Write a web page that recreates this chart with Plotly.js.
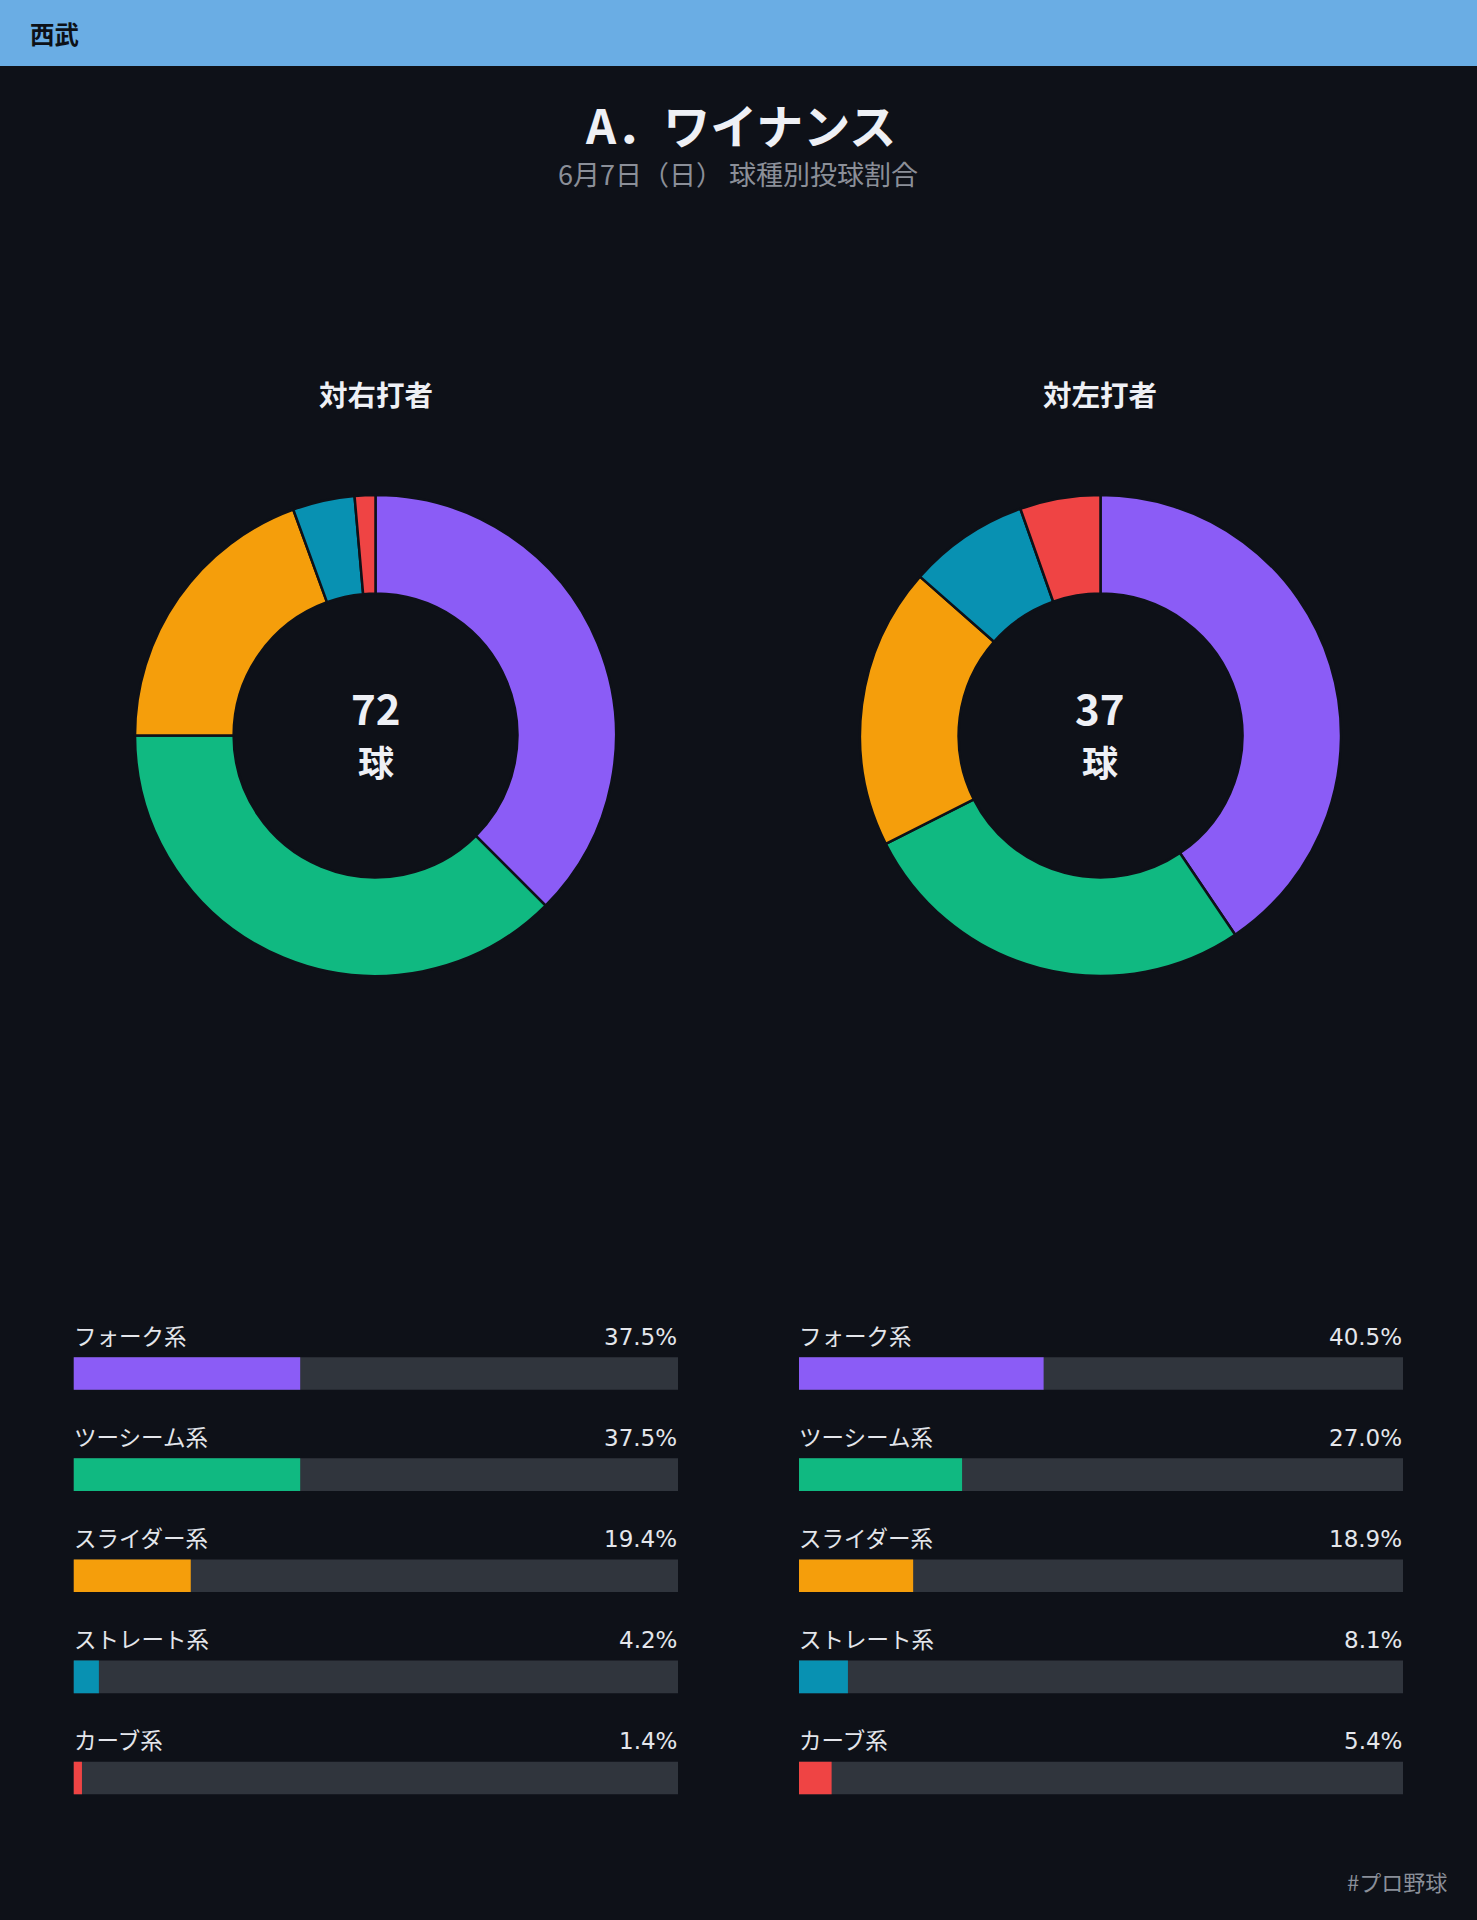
<!DOCTYPE html>
<html>
<head>
<meta charset="utf-8">
<script src="https://cdn.plot.ly/plotly-3.0.1.min.js"></script>
<style>
  html, body { margin: 0; padding: 0; background: #0e1118; }
  #chart { width: 1477px; height: 1920px; }
</style>
</head>
<body>
<div id="chart"></div>
<script>
// ---- data ----
const teamName = "西武";
const pitcherName = "A．ワイナンス";
const subtitleText = "6月7日（日） 球種別投球割合";
const footerText = "#プロ野球";
const pitchTypes = ["フォーク系", "ツーシーム系", "スライダー系", "ストレート系", "カーブ系"];
const pitchColors = ["#8b5cf6", "#10b981", "#f59e0b", "#0891b2", "#ef4444"];
const vsRightTitle = "対右打者";
const vsLeftTitle = "対左打者";
const vsRightCounts = [27, 27, 14, 3, 1];
const vsLeftCounts = [15, 10, 7, 3, 2];
const vsRightPct = [37.5, 37.5, 19.4, 4.2, 1.4];
const vsLeftPct = [40.5, 27.0, 18.9, 8.1, 5.4];
const pctScaleMax = 100;
const ballUnit = "球";

// ---- layout helpers ----
const W = 1477, H = 1920;
const px = x => x / W;
const py = y => 1 - y / H;
const FONT = "Noto Sans CJK JP, Noto Sans, sans-serif";
const NUMFONT = "DejaVu Sans, Noto Sans CJK JP, sans-serif";
const BG = "#0e1118";
const TRACK = "#30353d";

const sum = a => a.reduce((s, v) => s + v, 0);

function pieTrace(values, xd) {
  return {
    type: "pie",
    labels: pitchTypes,
    values: values,
    sort: false,
    direction: "clockwise",
    rotation: 0,
    hole: 0.59,
    textinfo: "none",
    hoverinfo: "label+value+percent",
    marker: { colors: pitchColors, line: { color: BG, width: 2.5 } },
    domain: { x: xd, y: [py(976), py(495)] },
    showlegend: false
  };
}

function trackTrace(xa, ya) {
  return {
    type: "bar", orientation: "h",
    y: pitchTypes, x: pitchTypes.map(() => pctScaleMax),
    width: 0.322,
    marker: { color: TRACK, line: { width: 0 } },
    xaxis: xa, yaxis: ya, hoverinfo: "skip", showlegend: false
  };
}
function barTrace(vals, xa, ya) {
  return {
    type: "bar", orientation: "h",
    y: pitchTypes, x: vals,
    width: 0.322,
    marker: { color: pitchColors, line: { width: 0 } },
    xaxis: xa, yaxis: ya, hoverinfo: "y+x", showlegend: false
  };
}

const data = [
  pieTrace(vsRightCounts, [px(135), px(616)]),
  pieTrace(vsLeftCounts, [px(860), px(1341)]),
  trackTrace("x", "y"), barTrace(vsRightPct, "x", "y"),
  trackTrace("x2", "y2"), barTrace(vsLeftPct, "x2", "y2")
];

const yDom = [py(1828.5), py(1323)];
const hiddenX = d => ({ domain: d, range: [0, pctScaleMax], visible: false, fixedrange: true });
const hiddenY = a => ({ domain: yDom, type: "category", categoryarray: pitchTypes, range: [4.5, -0.5], visible: false, fixedrange: true, anchor: a });

const annotations = [];
function paperText(text, x, y, size, color, weight, xanchor, family) {
  annotations.push({
    xref: "paper", yref: "paper", x: px(x), y: py(y),
    xanchor: xanchor || "center", yanchor: "middle",
    text: text, showarrow: false,
    font: { family: family || FONT, size: size, color: color, weight: weight || "normal" }
  });
}
paperText(teamName, 28, 34, 24.5, "#0d1117", "bold", "left");
paperText(pitcherName, 740, 123, 47, "#eef0f5", "bold");
paperText(subtitleText, 738, 174, 27, "#8b8f98");
paperText(vsRightTitle, 376, 393, 28.5, "#eef0f5", "bold");
paperText(vsLeftTitle, 1100, 393, 28.5, "#eef0f5", "bold");
paperText(String(sum(vsRightCounts)), 376, 706, 42, "#eef0f5", "bold");
paperText(ballUnit, 376, 761, 36, "#eef0f5", "bold");
paperText(String(sum(vsLeftCounts)), 1100, 706, 42, "#eef0f5", "bold");
paperText(ballUnit, 1100, 761, 36, "#eef0f5", "bold");
paperText(footerText, 1449, 1881, 22, "#8a8f99", "normal", "right");

function barLabels(vals, xr, yr) {
  pitchTypes.forEach((name, i) => {
    annotations.push({
      xref: xr, yref: yr, x: 0, y: name, yshift: 39, xshift: -2,
      xanchor: "left", yanchor: "middle", showarrow: false,
      text: name, font: { family: FONT, size: 22.5, color: "#e4e6eb" }
    });
    annotations.push({
      xref: xr, yref: yr, x: pctScaleMax, y: name, yshift: 37, xshift: 1,
      xanchor: "right", yanchor: "middle", showarrow: false,
      text: vals[i].toFixed(1) + "%", font: { family: NUMFONT, size: 23, color: "#e4e6eb" }
    });
  });
}
barLabels(vsRightPct, "x", "y");
barLabels(vsLeftPct, "x2", "y2");

const layout = {
  width: W, height: H,
  margin: { l: 0, r: 0, t: 0, b: 0, pad: 0 },
  paper_bgcolor: BG, plot_bgcolor: "rgba(0,0,0,0)",
  font: { family: FONT, color: "#e4e6eb" },
  barmode: "overlay",
  showlegend: false,
  xaxis: Object.assign(hiddenX([px(73.5), px(678)]), { anchor: "y" }),
  yaxis: hiddenY("x"),
  xaxis2: Object.assign(hiddenX([px(799), px(1403)]), { anchor: "y2" }),
  yaxis2: hiddenY("x2"),
  shapes: [{
    type: "rect", xref: "paper", yref: "paper",
    x0: 0, x1: 1, y0: py(66), y1: 1,
    fillcolor: "#6aade4", line: { width: 0 }, layer: "below"
  }],
  annotations: annotations
};

Plotly.newPlot("chart", data, layout, { displayModeBar: false, staticPlot: true });
</script>
</body>
</html>
